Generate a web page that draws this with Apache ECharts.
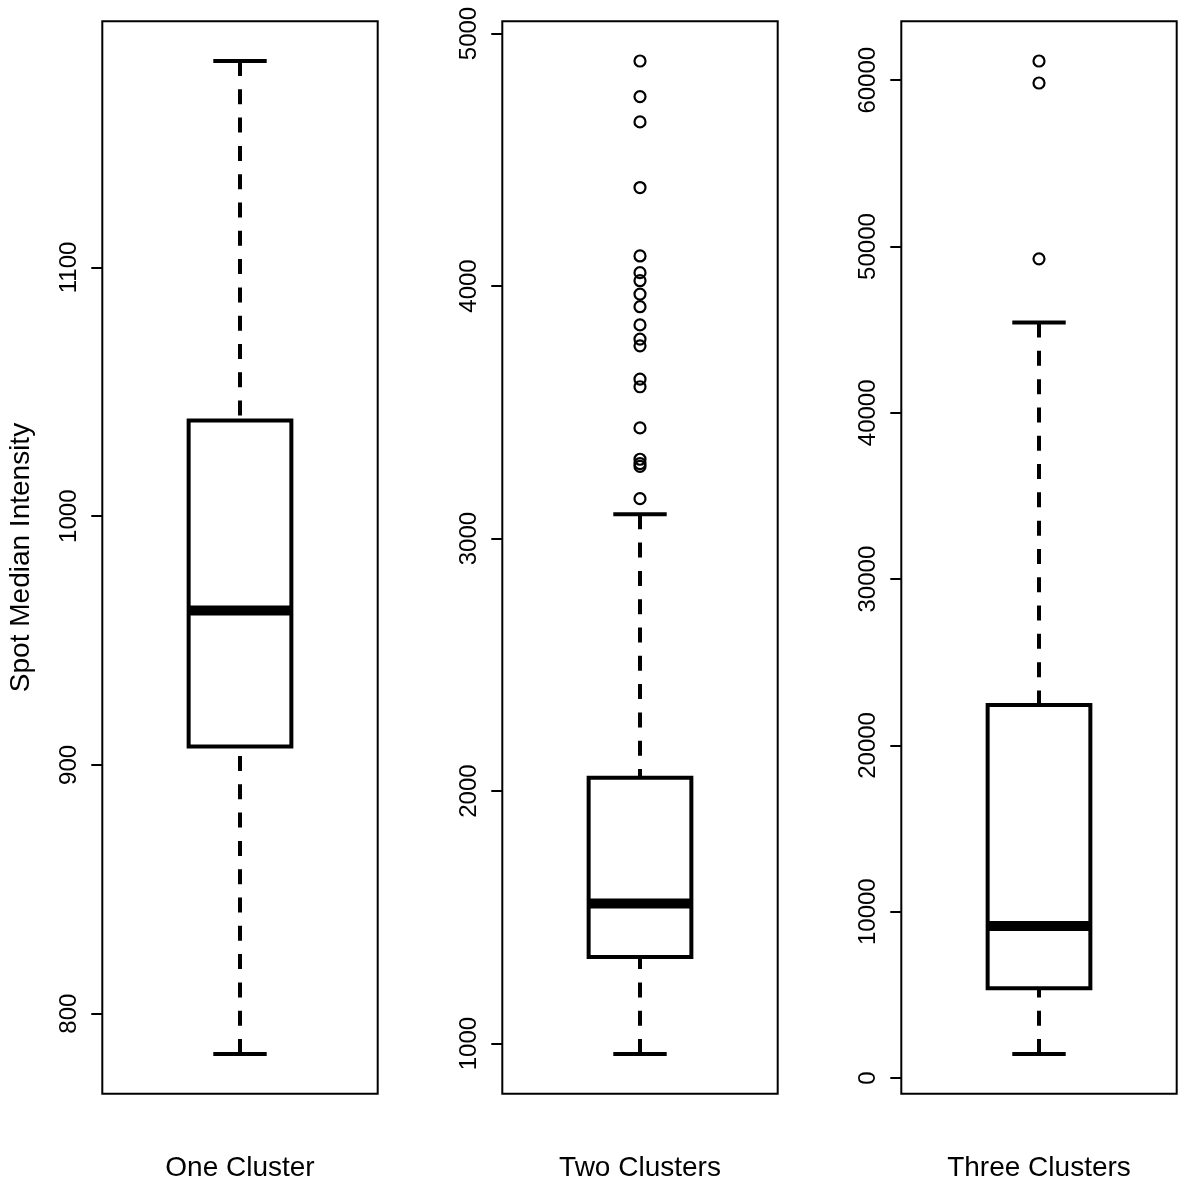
<!DOCTYPE html>
<html>
<head>
<meta charset="utf-8">
<script src="https://cdn.jsdelivr.net/npm/echarts@6/dist/echarts.min.js"></script>
<style>
  html, body { margin: 0; padding: 0; background: #fff; }
  #chart { width: 1200px; height: 1195px; }
</style>
</head>
<body>
<div id="chart"></div>
<script>
// ---- Data ----
const categories = ['One Cluster', 'Two Clusters', 'Three Clusters'];
const yAxisTitle = 'Spot Median Intensity';

// [lower whisker, Q1, median, Q3, upper whisker]
const statsOne   = [783.8, 907.4, 962.1, 1038.5, 1183.0];
const statsTwo   = [958.8, 1343, 1554.7, 2052.7, 3096];
const statsThree = [1444, 5397, 9146, 22425, 45427];

const outliersOne   = [];
const outliersTwo   = [4891, 4750, 4650, 4390, 4119, 4053, 4021, 3968, 3918, 3846,
                       3790, 3763, 3631, 3601, 3438, 3314, 3297, 3286, 3158];
const outliersThree = [61155, 59832, 49260];

const ticksOne   = [800, 900, 1000, 1100];
const ticksTwo   = [1000, 2000, 3000, 4000, 5000];
const ticksThree = [0, 10000, 20000, 30000, 40000, 50000, 60000];

// ---- Build ----
const panels = [
  { stats: statsOne,   outliers: outliersOne,   ticks: ticksOne },
  { stats: statsTwo,   outliers: outliersTwo,   ticks: ticksTwo },
  { stats: statsThree, outliers: outliersThree, ticks: ticksThree }
];

const FONT = '"Liberation Sans", Arial, Helvetica, sans-serif';
const BOX_HALF = 0.1865;
const CAP_HALF = 0.097;
const gridLefts = [102.3, 502.3, 901.3];

function renderBox(params, api) {
  const x = api.value(0);
  const lo = api.value(1), q1 = api.value(2), med = api.value(3), q3 = api.value(4), hi = api.value(5);
  const c = (xx, yy) => api.coord([xx, yy]);
  const pLo = c(x, lo), pQ1 = c(x, q1), pQ3 = c(x, q3), pHi = c(x, hi);
  const boxTL = c(x - BOX_HALF, q3), boxBR = c(x + BOX_HALF, q1);
  const medL = c(x - BOX_HALF, med), medR = c(x + BOX_HALF, med);
  const capLoL = c(x - CAP_HALF, lo), capLoR = c(x + CAP_HALF, lo);
  const capHiL = c(x - CAP_HALF, hi), capHiR = c(x + CAP_HALF, hi);
  const dashStyle = { stroke: '#000', lineWidth: 4, lineDash: [15, 13.3], lineCap: 'butt', fill: null };
  const solid = (w) => ({ stroke: '#000', lineWidth: w, lineCap: 'butt', fill: null });
  return {
    type: 'group',
    children: [
      { type: 'line', shape: { x1: pLo[0], y1: pLo[1], x2: pQ1[0], y2: pQ1[1] }, style: dashStyle },
      { type: 'line', shape: { x1: pHi[0], y1: pHi[1], x2: pQ3[0], y2: pQ3[1] }, style: dashStyle },
      { type: 'line', shape: { x1: capLoL[0], y1: capLoL[1], x2: capLoR[0], y2: capLoR[1] }, style: solid(4) },
      { type: 'line', shape: { x1: capHiL[0], y1: capHiL[1], x2: capHiR[0], y2: capHiR[1] }, style: solid(4) },
      { type: 'rect', shape: { x: boxTL[0], y: boxTL[1], width: boxBR[0] - boxTL[0], height: boxBR[1] - boxTL[1] },
        style: { stroke: '#000', lineWidth: 4, fill: null, lineJoin: 'miter' } },
      { type: 'line', shape: { x1: medL[0], y1: medL[1], x2: medR[0], y2: medR[1] }, style: solid(10) }
    ]
  };
}

const grids = [], xAxes = [], yAxes = [], series = [];
panels.forEach((p, i) => {
  const all = p.stats.concat(p.outliers);
  const lo = Math.min.apply(null, all), hi = Math.max.apply(null, all);
  const ext = (hi - lo) * 0.04;
  grids.push({
    left: gridLefts[i], top: 21.3, width: 275.4, height: 1072.4,
    show: true, borderColor: '#000', borderWidth: 2, backgroundColor: 'transparent',
    containLabel: false, outerBoundsMode: 'none'
  });
  xAxes.push({
    type: 'value', gridIndex: i, min: 0.5, max: 1.5,
    axisLine: { show: false }, axisTick: { show: false }, axisLabel: { show: false },
    splitLine: { show: false },
    name: categories[i], nameLocation: 'middle', nameGap: 75,
    nameTextStyle: { fontFamily: FONT, fontSize: 28, color: '#000', verticalAlign: 'middle' }
  });
  yAxes.push({
    type: 'value', gridIndex: i, min: lo - ext, max: hi + ext,
    axisLine: { show: false },
    splitLine: { show: false },
    axisTick: { show: true, inside: false, length: 11, customValues: p.ticks,
                lineStyle: { color: '#000', width: 2 } },
    axisLabel: { show: true, customValues: p.ticks, rotate: 90, margin: 33,
                 align: 'center', verticalAlign: 'middle',
                 fontFamily: FONT, fontSize: 24, color: '#000',
                 formatter: (v) => String(v) },
    name: i === 0 ? yAxisTitle : '', nameLocation: 'middle', nameGap: 81, nameRotate: 90,
    nameTextStyle: { fontFamily: FONT, fontSize: 28, color: '#000', verticalAlign: 'middle', align: 'center' }
  });
  series.push({
    type: 'custom', xAxisIndex: i, yAxisIndex: i, renderItem: renderBox,
    data: [[1].concat(p.stats)], silent: true, clip: false
  });
  series.push({
    type: 'scatter', xAxisIndex: i, yAxisIndex: i, symbol: 'circle', symbolSize: 11,
    itemStyle: { color: 'rgba(0,0,0,0)', borderColor: '#000', borderWidth: 2.2, opacity: 1 },
    data: p.outliers.map(v => [1, v]), silent: true
  });
});

const chart = echarts.init(document.getElementById('chart'), null, { renderer: 'canvas' });
chart.setOption({
  animation: false,
  backgroundColor: '#fff',
  grid: grids,
  xAxis: xAxes,
  yAxis: yAxes,
  series: series
});
</script>
</body>
</html>
